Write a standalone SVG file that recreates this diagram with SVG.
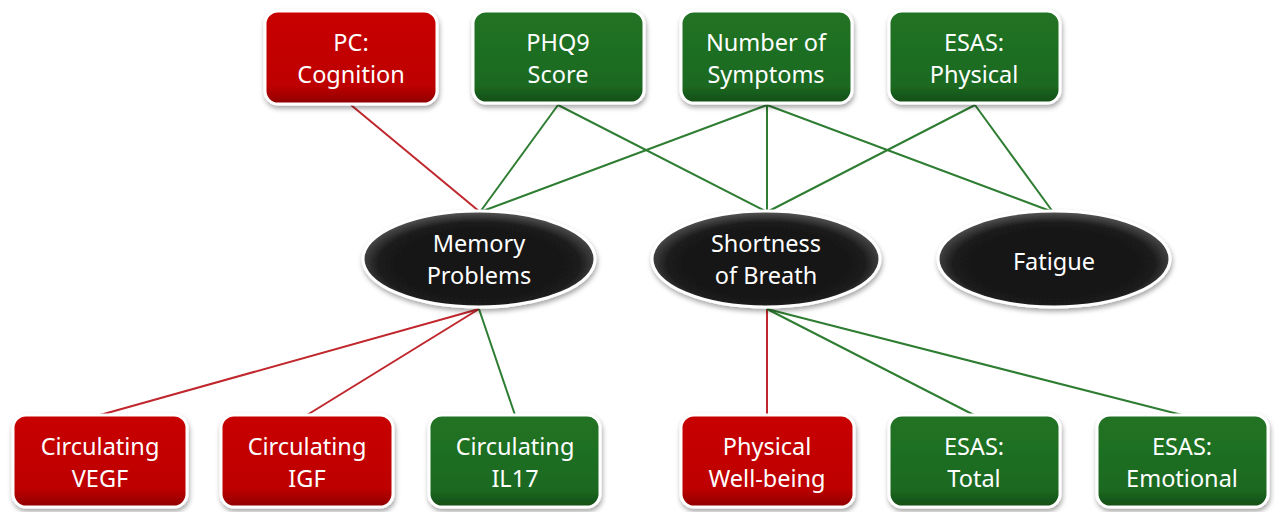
<svg xmlns="http://www.w3.org/2000/svg" width="1275" height="512" viewBox="0 0 1275 512">
  <defs>
    <linearGradient id="gRed" x1="0" y1="0" x2="0" y2="1">
      <stop offset="0" stop-color="#c80000"/>
      <stop offset="0.8" stop-color="#be0000"/>
      <stop offset="1" stop-color="#8e0000"/>
    </linearGradient>
    <linearGradient id="gGreen" x1="0" y1="0" x2="0" y2="1">
      <stop offset="0" stop-color="#217325"/>
      <stop offset="0.8" stop-color="#1d6a21"/>
      <stop offset="1" stop-color="#124d16"/>
    </linearGradient>
    <radialGradient id="gBlack" cx="0.5" cy="0.55" r="0.55">
      <stop offset="0" stop-color="#141414"/>
      <stop offset="0.78" stop-color="#1a1a1a"/>
      <stop offset="1" stop-color="#5a5a5a"/>
    </radialGradient>
    <filter id="shadow" x="-10%" y="-10%" width="125%" height="130%">
      <feDropShadow dx="1" dy="3" stdDeviation="2.5" flood-color="#000" flood-opacity="0.35"/>
    </filter>
  </defs>
  <style>
    .box { stroke: #ffffff; stroke-width: 3; filter: url(#shadow); }
    .red { fill: url(#gRed); }
    .green { fill: url(#gGreen); }
    .ell { fill: url(#gBlack); stroke: #ffffff; stroke-width: 3; filter: url(#shadow); }
    .lbl { font-family: "Noto Sans", "Open Sans", sans-serif; font-size: 23.5px; fill: #ffffff; text-anchor: middle; }
    .cr { stroke: #c0272d; stroke-width: 2; fill: none; }
    .cg { stroke: #2e7d32; stroke-width: 2; fill: none; }
  </style>
  <rect width="1275" height="512" fill="#ffffff"/>

  <g id="connectors">
    <line class="cr" x1="351" y1="105" x2="480" y2="212"/>
    <line class="cg" x1="558" y1="105" x2="480" y2="212"/>
    <line class="cg" x1="558" y1="105" x2="767" y2="212"/>
    <line class="cg" x1="767" y1="105" x2="480" y2="212"/>
    <line class="cg" x1="767" y1="105" x2="767" y2="212"/>
    <line class="cg" x1="767" y1="105" x2="1053" y2="212"/>
    <line class="cg" x1="975" y1="105" x2="767" y2="212"/>
    <line class="cg" x1="975" y1="105" x2="1053" y2="212"/>
    <line class="cr" x1="479" y1="309" x2="100" y2="415"/>
    <line class="cr" x1="479" y1="309" x2="307" y2="415"/>
    <line class="cg" x1="479" y1="309" x2="515" y2="415"/>
    <line class="cr" x1="767" y1="309" x2="767" y2="415"/>
    <line class="cg" x1="767" y1="309" x2="974" y2="415"/>
    <line class="cg" x1="767" y1="309" x2="1182" y2="415"/>
  </g>

  <g id="pc-cognition">
    <rect class="box red" x="265" y="11" width="172" height="93" rx="13"/>
    <text class="lbl" x="351" y="51">PC:</text>
    <text class="lbl" x="351" y="83">Cognition</text>
  </g>
  <g id="phq9">
    <rect class="box green" x="473" y="11" width="171" height="92" rx="13"/>
    <text class="lbl" x="558" y="51">PHQ9</text>
    <text class="lbl" x="558" y="83">Score</text>
  </g>
  <g id="num-symptoms">
    <rect class="box green" x="681" y="11" width="171" height="92" rx="13"/>
    <text class="lbl" x="766" y="51">Number of</text>
    <text class="lbl" x="766" y="83">Symptoms</text>
  </g>
  <g id="esas-physical">
    <rect class="box green" x="889" y="11" width="171" height="92" rx="13"/>
    <text class="lbl" x="974" y="51">ESAS:</text>
    <text class="lbl" x="974" y="83">Physical</text>
  </g>

  <g id="memory">
    <ellipse class="ell" cx="479" cy="259" rx="116" ry="48"/>
    <text class="lbl" x="479" y="252">Memory</text>
    <text class="lbl" x="479" y="284">Problems</text>
  </g>
  <g id="breath">
    <ellipse class="ell" cx="766" cy="259" rx="114" ry="48"/>
    <text class="lbl" x="766" y="252">Shortness</text>
    <text class="lbl" x="766" y="284">of Breath</text>
  </g>
  <g id="fatigue">
    <ellipse class="ell" cx="1054" cy="259" rx="116" ry="48"/>
    <text class="lbl" x="1054" y="270">Fatigue</text>
  </g>

  <g id="vegf">
    <rect class="box red" x="13" y="415" width="174" height="92" rx="13"/>
    <text class="lbl" x="100" y="455">Circulating</text>
    <text class="lbl" x="100" y="487">VEGF</text>
  </g>
  <g id="igf">
    <rect class="box red" x="221" y="415" width="172" height="92" rx="13"/>
    <text class="lbl" x="307" y="455">Circulating</text>
    <text class="lbl" x="307" y="487">IGF</text>
  </g>
  <g id="il17">
    <rect class="box green" x="429" y="415" width="171" height="92" rx="13"/>
    <text class="lbl" x="515" y="455">Circulating</text>
    <text class="lbl" x="515" y="487">IL17</text>
  </g>
  <g id="wellbeing">
    <rect class="box red" x="681" y="415" width="173" height="92" rx="13"/>
    <text class="lbl" x="767" y="455">Physical</text>
    <text class="lbl" x="767" y="487">Well-being</text>
  </g>
  <g id="esas-total">
    <rect class="box green" x="889" y="415" width="171" height="92" rx="13"/>
    <text class="lbl" x="974" y="455">ESAS:</text>
    <text class="lbl" x="974" y="487">Total</text>
  </g>
  <g id="esas-emotional">
    <rect class="box green" x="1097" y="415" width="171" height="92" rx="13"/>
    <text class="lbl" x="1182" y="455">ESAS:</text>
    <text class="lbl" x="1182" y="487">Emotional</text>
  </g>
</svg>
